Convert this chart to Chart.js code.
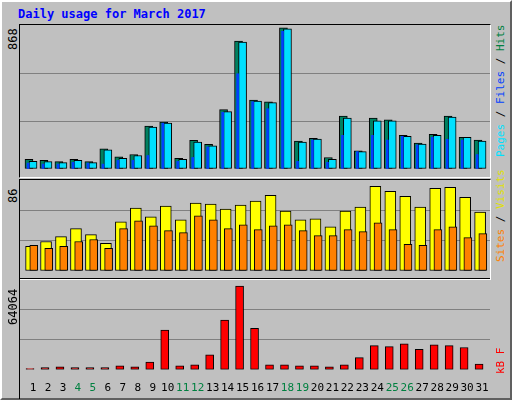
<!DOCTYPE html>
<html><head><meta charset="utf-8">
<script src="https://cdn.jsdelivr.net/npm/chart.js@4"></script>
<style>
  body{margin:0;width:512px;height:400px;background:#c0c0c0;font-family:"DejaVu Sans Mono",monospace;}
  #frame{position:absolute;left:0;top:0;width:508px;height:396px;border:2px solid;border-color:#fff #606060 #606060 #fff;box-sizing:content-box;}
  .title{position:absolute;left:18px;top:7px;font-weight:bold;font-size:12px;color:#0000ff;}
  .panel{position:absolute;left:19px;width:470px;border:1px solid;border-color:#000 #fff #fff #000;}
  .panel canvas{display:block;}
  .vl{position:absolute;font-size:11px;transform-origin:left top;transform:rotate(-90deg);white-space:nowrap;}
</style></head>
<body>
<div id="frame"></div>
<div class="title">Daily usage for March 2017</div>
<div class="panel" style="top:24px;height:152px"><canvas id="c1" width="470" height="152"></canvas></div>
<div class="panel" style="top:179px;height:99px"><canvas id="c2" width="470" height="99"></canvas></div>
<div class="panel" style="top:278px;height:120px;border-bottom:none;border-right:none"><canvas id="c3" width="470" height="120"></canvas></div>
<div class="vl" style="left:6px;top:50px;color:#000;font-size:12px">868</div>
<div class="vl" style="left:6px;top:203px;color:#000;font-size:12px">86</div>
<div class="vl" style="left:6px;top:325px;color:#000;font-size:12px">64064</div>
<div class="vl" style="left:494px;top:157px"><span style="color:#00e0ff">Pages</span> / <span style="color:#0040ff">Files</span> / <span style="color:#008040">Hits</span></div>
<div class="vl" style="left:494px;top:262px"><span style="color:#ff8000">Sites</span> / <span style="color:#e0e000">Visits</span></div>
<div class="vl" style="left:494px;top:374px;color:#ff0000">kB F</div>
<script>
const days = Array.from({length:31},(_,i)=>i+1);
const weekends = [4,5,11,12,18,19,25,26];
const hits  = [59,53,45,59,45,124,75,89,264,288,65,176,152,365,787,424,414,868,172,189,71,326,112,314,302,207,160,213,326,195,178];
const files = [47,45,39,53,39,118,65,83,258,282,59,166,142,353,781,418,408,862,166,184,59,314,107,296,296,201,154,207,320,195,172];
const pages = [36,30,30,41,36,30,53,53,83,282,47,71,136,349,586,414,371,847,47,178,41,207,107,207,178,201,148,195,183,178,89];
const visits = [25,30,35,43,37,28,50,64,55,66,52,69,68,63,67,71,77,61,52,53,45,61,65,86,81,76,65,84,85,75,60];
const sites  = [26,23,25,30,32,23,43,51,46,41,39,56,52,43,47,42,46,47,41,36,36,42,40,49,42,27,26,42,45,34,38];
const kbytes = [935,1637,2338,1637,1637,1637,3039,2338,5845,30394,3039,3741,11456,38109,64064,31797,3741,3741,3039,3039,2338,3741,9352,18470,17769,19873,15665,19172,18470,17067,4442];

function series(values, shift){ return values.map((v,i)=>({x:days[i]+shift, y:v})); }

function buildPanel(id, datasets, yMax, showX){
  return new Chart(document.getElementById(id), {
    type:'bar',
    data:{datasets},
    options:{
      responsive:false, animation:false,
      layout:{padding:0},
      plugins:{legend:{display:false}, tooltip:{enabled:false}},
      scales:{
        x:{type:'linear', offset:false, min:0.13, max:31.53, grid:{display:false}, border:{display:false},
           afterBuildTicks: ax => { ax.ticks = days.map(v=>({value:v})); },
           afterFit: ax => { ax.paddingLeft = 0; ax.paddingRight = 0; },
           ticks:{display:showX, autoSkip:false, maxRotation:0, padding:4,
             font:{family:'DejaVu Sans Mono', size:11},
             color: c => weekends.includes(c.tick.value) ? '#008040' : '#000',
             callback: v => v}},
        y:{min:0, max:yMax, afterBuildTicks: ax => { ax.ticks=[0,yMax/3,2*yMax/3,yMax].map(v=>({value:v})); },
           ticks:{display:false}, border:{display:false},
           grid:{color: c => (c.index===1||c.index===2) ? '#808080':'transparent', drawTicks:false, lineWidth:1}}
      }
    }
  });
}
const bar = (data,color,w) => ({data, backgroundColor:color, borderColor:'#000', borderWidth:1, borderSkipped:false, barThickness:w, grouped:false});

// first dataset is painted on top
buildPanel('c1', [
  {...bar(series(pages,-0.33),'#0040ff',2), borderWidth:0},
  bar(series(files,0),'#00e0ff',8),
  bar(series(hits,-0.27),'#008060',8)
], 886, false);
buildPanel('c2', [
  bar(series(sites,0.05),'#ff8000',8),
  bar(series(visits,-0.13),'#ffff00',11)
], 92.5, false);
buildPanel('c3', [
  bar(series(kbytes,-0.2),'#ff0000',8)
], 69460, true);
</script>
</body></html>
